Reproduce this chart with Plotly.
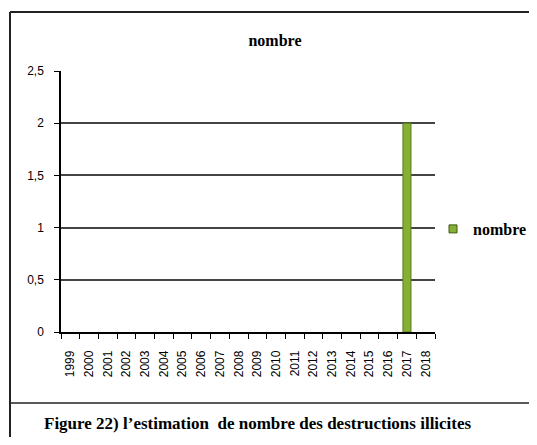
import plotly.graph_objects as go

years = [str(y) for y in range(1999, 2019)]
values = [0, 0, 0, 0, 0, 0, 0, 0, 0, 0, 0, 0, 0, 0, 0, 0, 0, 0, 2, 0]
series_name = "nombre"
y_tick_vals = [0, 0.5, 1, 1.5, 2, 2.5]
y_tick_text = ["0", "0,5", "1", "1,5", "2", "2,5"]
chart_title = "nombre"
caption = "Figure 22) l\u2019estimation\u00a0 de nombre des destructions illicites"

# page has an 8px body margin; work in figure coordinates
OFF = 8
W, H = 537 - OFF, 445 - 2 * OFF
L, R, T, B = 61 - OFF, 435 - OFF, 71 - OFF, 332 - OFF


def px(x):
    return (x - OFF - L) / (R - L)


def py(y):
    return (B - (y - OFF)) / (B - T)


SERIF = "Liberation Serif, Times New Roman, serif"
SANS = "Liberation Sans, Arial, sans-serif"
BAR = "#86B034"
EDGE = "#5A7A20"

fig = go.Figure()
fig.add_trace(go.Bar(
    x=years, y=values, name=series_name, width=0.43,
    marker=dict(color=BAR, line=dict(color=EDGE, width=[1 if v > 0 else 0 for v in values])),
    showlegend=False,
))
# legend entry with a small square swatch
fig.add_trace(go.Scatter(
    x=[None], y=[None], mode="markers", name=series_name,
    marker=dict(symbol="square", size=8, color=BAR, line=dict(color="#3E5712", width=1)),
    showlegend=True,
))

fig.update_layout(
    width=W, height=H,
    margin=dict(l=L, r=W - R, t=T, b=H - B, autoexpand=False),
    paper_bgcolor="white", plot_bgcolor="white",
    title=dict(text=chart_title, x=(275 - OFF) / W, xref="container", xanchor="center",
               y=1 - (40 - OFF) / H, yanchor="middle",
               font=dict(family=SERIF, size=16, color="black", weight="bold")),
    legend=dict(x=px(433), xanchor="left", y=py(229), yanchor="middle",
                font=dict(family=SERIF, size=16, color="black", weight="bold"),
                itemwidth=30, tracegroupgap=0, bgcolor="rgba(0,0,0,0)", borderwidth=0),
    showlegend=True,
    font=dict(family=SANS, color="black"),
)
fig.update_xaxes(
    type="category", tickson="boundaries", ticks="outside", ticklen=5, tickcolor="black",
    showline=True, linecolor="black", linewidth=1.5, showgrid=False,
    tickangle=-90, tickfont=dict(family=SANS, size=12, color="black"),
    ticklabelstandoff=12, fixedrange=True,
)
fig.update_yaxes(
    range=[0, 2.5], tickvals=y_tick_vals, ticktext=y_tick_text,
    ticks="outside", ticklen=5, tickcolor="black",
    showline=True, linecolor="black", linewidth=1.5,
    showgrid=True, gridcolor="#444444", gridwidth=1.5, zeroline=False,
    tickfont=dict(family=SANS, size=12, color="black"),
    ticklabelstandoff=8, fixedrange=True,
)

# Outer frame and caption area
fig.add_shape(type="line", xref="paper", yref="paper", x0=px(10), x1=px(600), y0=py(12), y1=py(12),
              line=dict(color="#222222", width=2))
fig.add_shape(type="line", xref="paper", yref="paper", x0=px(10), x1=px(10), y0=py(12), y1=py(500),
              line=dict(color="#222222", width=2))
fig.add_shape(type="line", xref="paper", yref="paper", x0=px(10), x1=px(600), y0=py(403), y1=py(403),
              line=dict(color="#222222", width=1.5))

fig.add_annotation(text=caption, xref="paper", yref="paper",
                   x=px(257.5), y=py(424), xanchor="center", yanchor="middle", showarrow=False,
                   font=dict(family=SERIF, size=17, color="black", weight="bold"))

fig.write_html("out.html")
